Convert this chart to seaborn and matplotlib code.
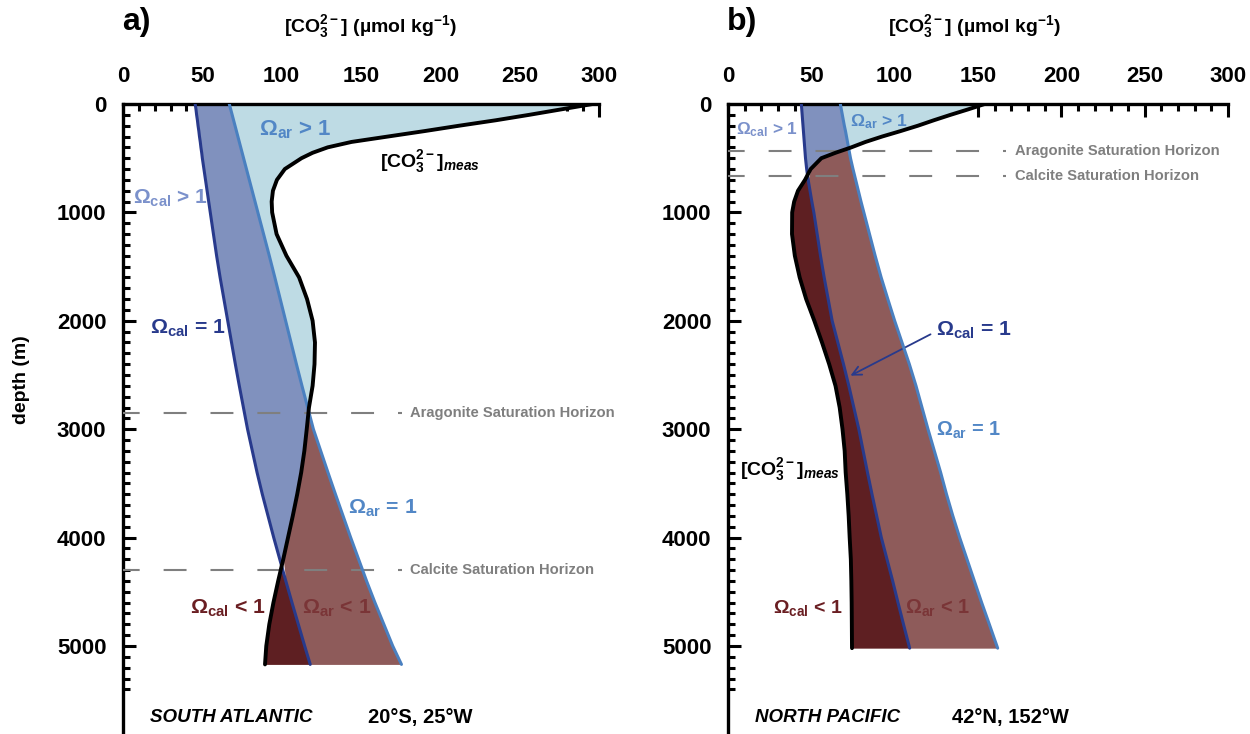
import numpy as np
import matplotlib
matplotlib.use("Agg")
import matplotlib.pyplot as plt
import seaborn as sns

# ---------------- data ----------------
# Panel a: South Atlantic 20S 25W
depth_a = [0, 50, 100, 150, 200, 250, 300, 350, 400, 450, 500, 600, 700, 800, 900, 1000,
           1200, 1400, 1600, 1800, 2000, 2200, 2400, 2600, 2800, 3000, 3200, 3400, 3600,
           3800, 4000, 4200, 4400, 4600, 4800, 5000, 5170]
cal_a = [45.5, 46, 46.4, 46.9, 47.3, 47.8, 48.2, 48.7, 49.1, 49.6, 50, 51, 52, 53, 54, 55,
         57, 59, 61.2, 63.6, 66, 68.4, 70.8, 73.3, 75.9, 78.5, 81.5, 84.5, 87.8,
         91.4, 95, 98.8, 102.6, 106.5, 110.5, 114.5, 118]
ar_a = [67, 67.9, 68.8, 69.7, 70.6, 71.5, 72.4, 73.3, 74.2, 75.1, 76, 77.8, 79.6, 81.4, 83.2, 85,
        88.6, 92.2, 95.7, 99.1, 102.5, 105.9, 109.3, 112.8, 116.4, 120, 124.6, 129.2, 133.9,
        138.7, 143.5, 148.5, 153.5, 158.8, 164.4, 170, 175.5]
meas_a = [296, 276, 256, 235, 212, 190, 167, 144, 129, 119.5, 112.5, 102, 97, 94.5, 93.7, 94,
          96.8, 103, 111, 116, 119.5, 121, 120.7, 119.5, 117.2, 115.8, 114.3, 112.3, 109.8,
          107, 104, 101, 97.8, 94.8, 92.2, 90.3, 89.5]
horizons_a = [2850, 4300]  # aragonite, calcite

# Panel b: North Pacific 42N 152W
depth_b = [0, 50, 100, 150, 200, 250, 300, 350, 400, 450, 500, 600, 700, 800, 900, 1000,
           1200, 1400, 1600, 1800, 2000, 2200, 2400, 2600, 2800, 3000, 3200, 3400, 3600,
           3800, 4000, 4200, 4400, 4600, 4800, 5020]
cal_b = [44, 44.25, 44.5, 44.75, 45, 45.25, 45.5, 45.75, 46, 46.25, 46.5, 47.2, 48.1, 49.2, 50.3, 51.5,
         53.5, 55.5, 57.7, 60.1, 62.5, 65.9, 69.3, 72.5, 75.5, 78.5, 81.1, 83.7, 86.4,
         89.2, 92, 95.4, 98.8, 102, 105.3, 109]
ar_b = [67.4, 68, 68.6, 69.2, 69.8, 70.5, 71.1, 71.7, 72.3, 72.9, 73.5, 75, 76.6, 78.2, 79.8, 81.5,
        84.9, 88.3, 91.9, 95.9, 100, 104.4, 108.8, 112.8, 116.4, 120, 123.8, 127.6, 131.1,
        134.9, 139, 143.4, 147.8, 152.2, 156.8, 161.8]
meas_b = [154, 144, 133.5, 123.5, 114, 103.5, 92.5, 82.5, 74, 64.5, 56, 49.6, 46.2, 42, 39.7, 38.5,
          38.4, 40.1, 43, 46.9, 51.8, 56.4, 60.7, 64.5, 67, 68.7, 70, 70.6, 71.6,
          72.4, 73, 73.7, 74, 74.2, 74.3, 74.4]
horizons_b = [430, 665]

x_ticks = [0, 50, 100, 150, 200, 250, 300]
y_ticks = [0, 1000, 2000, 3000, 4000, 5000]

# ---------------- style ----------------
sns.set_style("white")
plt.rcParams["font.family"] = ["Liberation Sans", "DejaVu Sans"]
plt.rcParams["mathtext.fontset"] = "custom"
plt.rcParams["mathtext.rm"] = "Liberation Sans"
plt.rcParams["mathtext.it"] = "Liberation Sans:italic:bold"
plt.rcParams["mathtext.bf"] = "Liberation Sans:bold"
plt.rcParams["mathtext.default"] = "regular"
plt.rcParams.update({"text.color": "black", "axes.labelcolor": "black",
                     "xtick.color": "black", "ytick.color": "black"})

C_LB = "#bedbe4"
C_PW = "#8091be"
C_RB = "#8e5b5a"
C_MR = "#5e1f22"
C_NAVY = "#283a8c"
C_AR = "#4a80c0"
C_LBL_CALGT = "#7b91cb"
C_LBL_AR = "#5287c6"
C_LBL_CALLT = "#6a1e22"
C_LBL_ARLT = "#7a3537"
C_GRAY = "#7f7f7f"

W, H = 1250, 734
fig = plt.figure(figsize=(W / 100, H / 100), dpi=100)
top_frac = 1 - 104 / H
axA = fig.add_axes([123 / W, 0, 476 / W, top_frac])
axB = fig.add_axes([728 / W, 0, 500 / W, top_frac])
YMAX = 5812


def panel(ax, depth, cal, ar, meas, horizons, hz_end):
    d = np.asarray(depth, float)
    c = np.asarray(cal, float)
    a = np.asarray(ar, float)
    m = np.asarray(meas, float)
    lo = np.minimum(a, m)
    hi = np.maximum(m, c)
    ax.fill_betweenx(d, a, m, where=m > a, interpolate=True, color=C_LB, lw=0)
    ax.fill_betweenx(d, c, lo, where=lo > c, interpolate=True, color=C_PW, lw=0)
    ax.fill_betweenx(d, hi, a, where=a > hi, interpolate=True, color=C_RB, lw=0)
    ax.fill_betweenx(d, m, c, where=m < c, interpolate=True, color=C_MR, lw=0)
    for hz in horizons:
        ax.plot([0, hz_end], [hz, hz], color=C_GRAY, lw=1.5,
                linestyle=(3, (11, 11.5)), zorder=3)
    sns.lineplot(x=c, y=d, sort=False, estimator=None, color=C_NAVY, lw=2.2, ax=ax, zorder=4)
    sns.lineplot(x=a, y=d, sort=False, estimator=None, color=C_AR, lw=2.2, ax=ax, zorder=4)
    sns.lineplot(x=m, y=d, sort=False, estimator=None, color="black", lw=2.8, ax=ax, zorder=5)

    ax.set_xlim(0, 300)
    ax.set_ylim(YMAX, 0)
    ax.set_xlabel("")
    ax.set_ylabel("")
    for s in ["right", "bottom"]:
        ax.spines[s].set_visible(False)
    for s in ["top", "left"]:
        ax.spines[s].set_linewidth(2.4)
        ax.spines[s].set_color("black")
    ax.set_xticks(x_ticks)
    ax.set_xticks(np.arange(0, 301, 10), minor=True)
    ax.set_yticks(y_ticks)
    ax.set_yticks(np.arange(0, 5401, 100), minor=True)
    ax.tick_params(axis="x", which="both", direction="in", top=True, bottom=False,
                   labeltop=True, labelbottom=False, width=2.2, color="black",
                   labelcolor="black")
    ax.tick_params(axis="x", which="major", length=9, pad=12, labelsize=16)
    ax.tick_params(axis="x", which="minor", length=5)
    ax.tick_params(axis="y", which="both", direction="in", left=True, right=False,
                   width=2.2, color="black", labelcolor="black")
    ax.tick_params(axis="y", which="major", length=9, pad=12, labelsize=16)
    ax.tick_params(axis="y", which="minor", length=5)
    for lab in ax.get_xticklabels() + ax.get_yticklabels():
        lab.set_fontweight("bold")
    ax.set_facecolor("none")


panel(axA, depth_a, cal_a, ar_a, meas_a, horizons_a, 176)
panel(axB, depth_b, cal_b, ar_b, meas_b, horizons_b, 167)


def lab(ax, x, y, s, color, size=15.3):
    ax.text(x, y, s, color=color, fontsize=size, fontweight="bold",
            ha="left", va="center", zorder=6)


hz_kw = dict(fontsize=10.6, fontweight="bold", color=C_GRAY, ha="left", va="center")
meas_lbl = r"[CO$_3^{2-}$]$_{\it meas}$"
bot_kw = dict(fontsize=13.5, fontweight="bold", ha="left", va="center")

# panel a labels
lab(axA, 86, 240, r"Ω$_{ar}$ > 1", C_LBL_AR, 16)
lab(axA, 162, 535, meas_lbl, "black", 14)
lab(axA, 6.3, 867, r"Ω$_{cal}$ > 1", C_LBL_CALGT, 15)
lab(axA, 17, 2066, r"Ω$_{cal}$ = 1", C_NAVY)
axA.text(181, horizons_a[0], "Aragonite Saturation Horizon", **hz_kw)
lab(axA, 141.8, 3727, r"Ω$_{ar}$ = 1", C_LBL_AR)
axA.text(181, horizons_a[1], "Calcite Saturation Horizon", **hz_kw)
lab(axA, 42, 4650, r"Ω$_{cal}$ < 1", C_LBL_CALLT)
lab(axA, 113, 4650, r"Ω$_{ar}$ < 1", C_LBL_ARLT)
axA.text(17, 5664, "SOUTH ATLANTIC", fontstyle="italic", **bot_kw)
axA.text(154.4, 5664, "20°S, 25°W", **dict(bot_kw, fontsize=14.5))

# panel b labels
lab(axB, 4.8, 240, r"Ω$_{cal}$ > 1", C_LBL_CALGT, 12.4)
lab(axB, 73.2, 166, r"Ω$_{ar}$ > 1", C_LBL_AR, 12.6)
axB.text(172, horizons_b[0], "Aragonite Saturation Horizon", **hz_kw)
axB.text(172, horizons_b[1], "Calcite Saturation Horizon", **hz_kw)
lab(axB, 124.8, 2085, r"Ω$_{cal}$ = 1", C_NAVY)
axB.annotate("", xy=(72, 2518), xytext=(123, 2113),
             arrowprops=dict(arrowstyle="->", color=C_NAVY, lw=1.3, mutation_scale=16))
lab(axB, 124.8, 3007, r"Ω$_{ar}$ = 1", C_LBL_AR, 14.3)
lab(axB, 7.2, 3376, meas_lbl, "black", 14)
lab(axB, 27, 4650, r"Ω$_{cal}$ < 1", C_LBL_CALLT, 14)
lab(axB, 106, 4650, r"Ω$_{ar}$ < 1", C_LBL_ARLT, 14.3)
axB.text(16.2, 5664, "NORTH PACIFIC", fontstyle="italic", **bot_kw)
axB.text(134.4, 5664, "42°N, 152°W", **dict(bot_kw, fontsize=14.5))

# titles
title = r"[CO$_3^{2-}$] (µmol kg$^{-1}$)"
fig.text(122 / W, 1 - 22 / H, "a)", fontsize=23, fontweight="bold", ha="left", va="center")
fig.text(371 / W, 1 - 27 / H, title, fontsize=14, fontweight="bold", ha="center", va="center")
fig.text(727 / W, 1 - 22 / H, "b)", fontsize=23, fontweight="bold", ha="left", va="center")
fig.text(975 / W, 1 - 27 / H, title, fontsize=14, fontweight="bold", ha="center", va="center")
fig.text(22 / W, 1 - 380 / H, "depth (m)", fontsize=14, fontweight="bold", rotation=90,
         ha="center", va="center")

fig.savefig("out.png", dpi=100)
